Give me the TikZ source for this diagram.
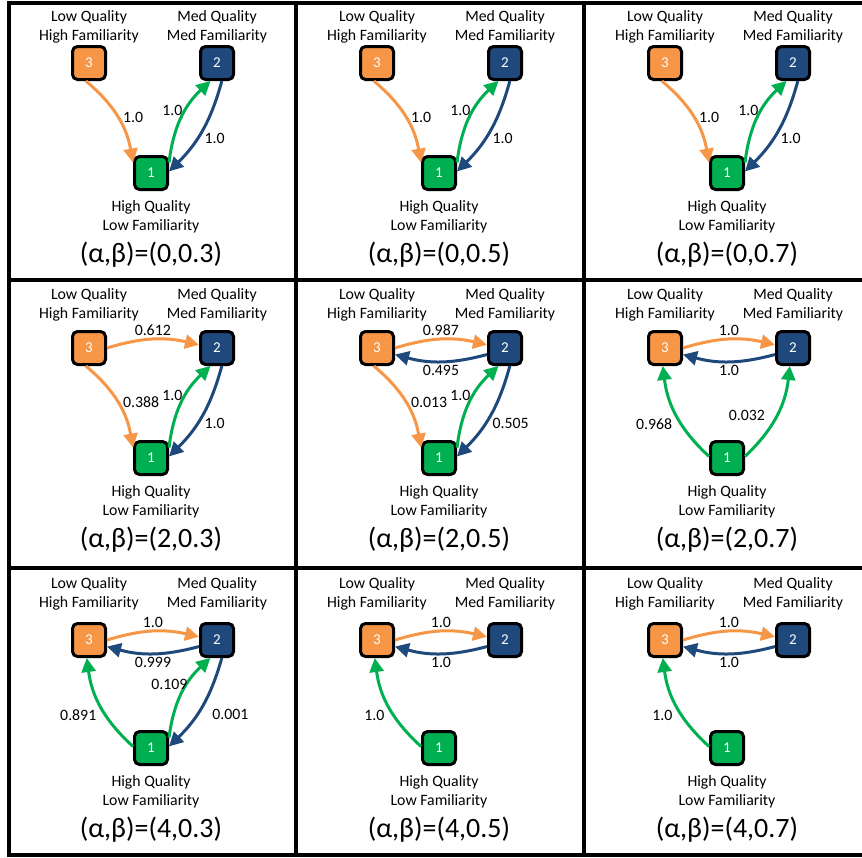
\documentclass[tikz,border=0pt]{standalone}
\usepackage{fontspec}
\setmainfont{Carlito}
\usetikzlibrary{arrows.meta}

\definecolor{qorange}{HTML}{F79646}
\definecolor{qblue}{HTML}{1F497D}
\definecolor{qgreen}{HTML}{00B050}

\begin{document}
\begin{tikzpicture}[x=0.5pt, y=-0.5pt,
	qnode/.style={draw=black, line width=1.5pt, rounded corners=2.5pt, minimum size=16.5pt, inner sep=0pt, text=white, font=\fontsize{7.5}{9}\selectfont},
	lbl/.style={align=center, inner sep=0pt, font=\fontsize{7.9}{9.5}\selectfont},
	abtitle/.style={inner sep=0pt, font=\fontsize{14}{16}\selectfont},
	wt/.style={inner sep=1pt, text=black, font=\fontsize{7.9}{9.5}\selectfont},
	arr/.style={line width=1.5pt, -{Triangle[length=7pt,width=7pt]}},
	frame/.style={line width=2pt}]
	\useasboundingbox (0,0) rectangle (862,857);
	\clip (0,0) rectangle (862,857);
	
	%panel grid
	\draw[frame] (9,3) rectangle (872,855);
	\draw[frame] (296,3) -- (296,855);
	\draw[frame] (584,3) -- (584,855);
	\draw[frame] (9,280) -- (872,280);
	\draw[frame] (9,568) -- (872,568);
	
	%nodes and labels of every panel
	\foreach \xo/\be/\c in {0/0.3/a, 288/0.5/b, 576/0.7/c}{
		\foreach \al/\ly/\ny/\by/\r in {0/27/63/173/1, 2/305/348/458/2, 4/594/640/748/3}{
			\node[qnode, fill=qorange] (\c\r-3) at (89+\xo, \ny) {3};
			\node[qnode, fill=qblue] (\c\r-2) at (217+\xo, \ny) {2};
			\node[qnode, fill=qgreen] (\c\r-1) at (151+\xo, \by) {1};
			\node[lbl] (\c\r-t3) at (89+\xo, \ly) {Low Quality\\High Familiarity};
			\node[lbl] (\c\r-t2) at (217+\xo, \ly) {Med Quality\\Med Familiarity};
			\node[lbl] (\c\r-t1) at (151+\xo, \by+44) {High Quality\\Low Familiarity};
			\node[abtitle] (\c\r-ab) at (151+\xo, \by+82) {(α,β)=(\al,\be)};
		}
	}
	
	%alpha = 0
	\foreach \c in {a,b,c}{
		\draw[arr, qorange] (\c1-3.260) to[bend left=20] node[wt, pos=0.5, right=1pt] {1.0} (\c1-1.150);
		\draw[arr, qgreen] (\c1-1.30) to[bend left=20] node[wt, pos=0.6, left=0pt] {1.0} (\c1-2.250);
		\draw[arr, qblue] (\c1-2.285) to[bend left=15] node[wt, pos=0.6, right=2pt] {1.0} (\c1-1.5);
	}
	
	%alpha = 2
	\draw[arr, qorange] (a2-3.0) to[bend left=15] node[wt, above] {0.612} (a2-2.170);
	\draw[arr, qorange] (a2-3.260) to[bend left=20] node[wt, pos=0.5, right=1pt] {0.388} (a2-1.150);
	\draw[arr, qgreen] (a2-1.30) to[bend left=20] node[wt, pos=0.6, left=0pt] {1.0} (a2-2.250);
	\draw[arr, qblue] (a2-2.285) to[bend left=15] node[wt, pos=0.6, right=2pt] {1.0} (a2-1.5);
	
	\draw[arr, qorange] (b2-3.0) to[bend left=15] node[wt, above] {0.987} (b2-2.170);
	\draw[arr, qblue] (b2-2.200) to[bend left=15] node[wt, below] {0.495} (b2-3.340);
	\draw[arr, qorange] (b2-3.260) to[bend left=20] node[wt, pos=0.5, right=1pt] {0.013} (b2-1.150);
	\draw[arr, qgreen] (b2-1.30) to[bend left=20] node[wt, pos=0.6, left=0pt] {1.0} (b2-2.250);
	\draw[arr, qblue] (b2-2.285) to[bend left=15] node[wt, pos=0.6, right=2pt] {0.505} (b2-1.5);
	
	\draw[arr, qorange] (c2-3.0) to[bend left=15] node[wt, above] {1.0} (c2-2.170);
	\draw[arr, qblue] (c2-2.200) to[bend left=15] node[wt, below] {1.0} (c2-3.340);
	\draw[arr, qgreen] (c2-1.175) to[bend left=20] node[wt, pos=0.4, left=3pt] {0.968} (c2-3.263);
	\draw[arr, qgreen] (c2-1.5) to[bend right=20] node[wt, pos=0.5, left=4pt] {0.032} (c2-2.260);
	
	%alpha = 4
	\draw[arr, qorange] (a3-3.0) to[bend left=15] node[wt, above] {1.0} (a3-2.170);
	\draw[arr, qblue] (a3-2.200) to[bend left=15] node[wt, below] {0.999} (a3-3.340);
	\draw[arr, qgreen] (a3-1.175) to[bend left=20] node[wt, pos=0.4, left=3pt] {0.891} (a3-3.263);
	\draw[arr, qgreen] (a3-1.30) to[bend left=20] node[wt, pos=0.62, left=-2pt] {0.109} (a3-2.250);
	\draw[arr, qblue] (a3-2.285) to[bend left=15] node[wt, pos=0.6, right=6pt] {0.001} (a3-1.5);
	
	\foreach \c in {b,c}{
		\draw[arr, qorange] (\c3-3.0) to[bend left=15] node[wt, above] {1.0} (\c3-2.170);
		\draw[arr, qblue] (\c3-2.200) to[bend left=15] node[wt, below] {1.0} (\c3-3.340);
		\draw[arr, qgreen] (\c3-1.175) to[bend left=20] node[wt, pos=0.4, left=3pt] {1.0} (\c3-3.263);
	}
\end{tikzpicture}
\end{document}
